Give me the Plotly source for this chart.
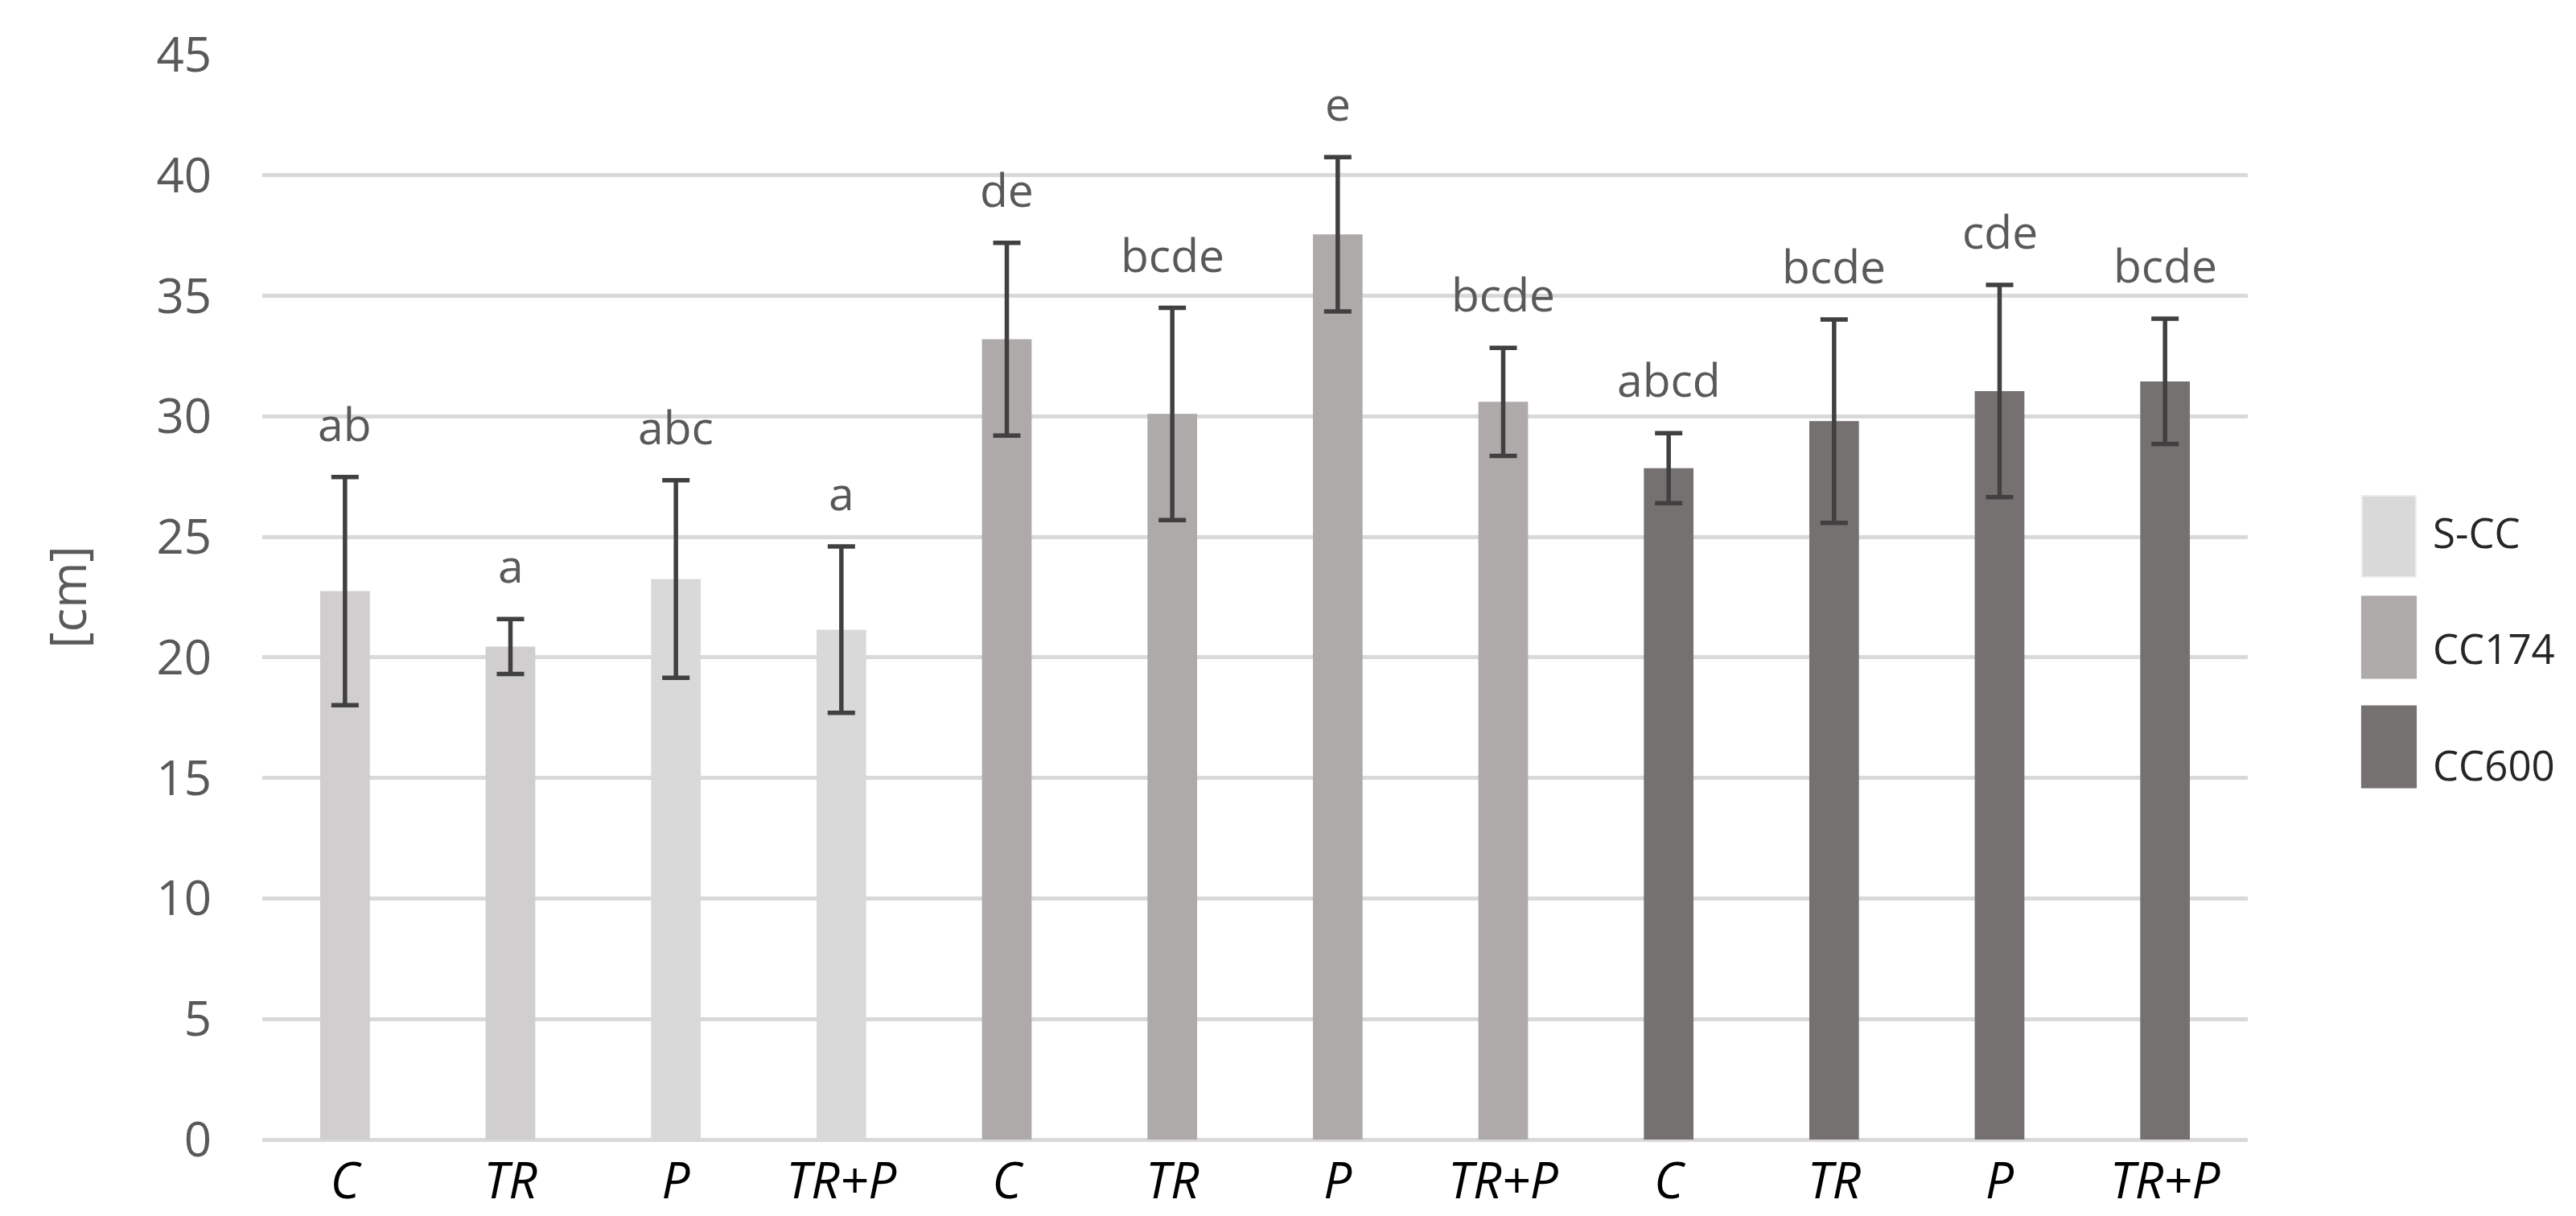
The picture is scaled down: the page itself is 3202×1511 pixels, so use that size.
import plotly.graph_objects as go

groups = ["S-CC", "CC174", "CC600"]
treatments = ["C", "TR", "P", "TR+P"]

scc_mean = [22.75, 20.45, 23.25, 21.15]
scc_err = [4.73, 1.14, 4.10, 3.45]
cc174_mean = [33.2, 30.1, 37.55, 30.6]
cc174_err = [4.0, 4.4, 3.2, 2.24]
cc600_mean = [27.85, 29.8, 31.05, 31.45]
cc600_err = [1.45, 4.22, 4.4, 2.6]

scc_letters = ["ab", "a", "abc", "a"]
cc174_letters = ["de", "bcde", "e", "bcde"]
cc600_letters = ["abcd", "bcde", "cde", "bcde"]

y_ticks = [0, 5, 10, 15, 20, 25, 30, 35, 40, 45]

means = [scc_mean, cc174_mean, cc600_mean]
errs = [scc_err, cc174_err, cc600_err]
letters = [scc_letters, cc174_letters, cc600_letters]
# Excel-like grey shades
bar_colors = [["#D0CECE", "#D0CECE", "#D9D9D9", "#D9D9D9"],
              ["#AEAAAA"] * 4,
              ["#767171"] * 4]
legend_colors = ["#D9D9D9", "#AEAAAA", "#767171"]

FONT = "Open Sans"
fig = go.Figure()

annotations = []
for g, name in enumerate(groups):
    xs = [g * len(treatments) + i for i in range(len(treatments))]
    fig.add_trace(go.Bar(
        x=xs, y=means[g], name=name, width=0.30,
        marker=dict(color=bar_colors[g], line=dict(width=0)),
        error_y=dict(type="data", array=errs[g], visible=True,
                     color="#404040", thickness=5.5, width=17),
        showlegend=False,
    ))
    for x, m, e, lab in zip(xs, means[g], errs[g], letters[g]):
        annotations.append(dict(
            x=x, y=m + e, xref="x", yref="y", text=lab, showarrow=False,
            yanchor="bottom", yshift=26,
            font=dict(family=FONT, size=57, color="#595959"),
        ))

# manual legend (tall rectangular keys like the original)
shapes = []
key_centers = [0.556, 0.463, 0.362]
text_centers = [0.560, 0.453, 0.346]
for name, col, yc, yt in zip(groups, legend_colors, key_centers, text_centers):
    shapes.append(dict(type="rect", xref="paper", yref="paper",
                       x0=1.0575, x1=1.0847, y0=yc - 0.0375, y1=yc + 0.0375,
                       fillcolor=col,
                       line=dict(width=2, color="#EDEDED" if name == "S-CC" else col)))
    annotations.append(dict(x=1.0925, y=yt, xref="paper", yref="paper",
                            text=name, showarrow=False, xanchor="left", yanchor="middle",
                            font=dict(family=FONT, size=51, color="#262626")))

n = len(groups) * len(treatments)
fig.update_layout(
    width=3202, height=1511,
    margin=dict(l=318, r=416, t=60, b=99, pad=0),
    plot_bgcolor="white", paper_bgcolor="white",
    annotations=annotations,
    shapes=shapes,
    xaxis=dict(
        range=[-0.5, n - 0.5],
        tickmode="array",
        tickvals=list(range(n)),
        ticktext=["<i>%s</i>" % t for t in treatments * len(groups)],
        tickfont=dict(family=FONT, size=62, color="#000000"),
        showgrid=False, zeroline=False, showline=False,
        ticks="", ticklabelstandoff=10,
    ),
    yaxis=dict(
        range=[0, 45],
        tickmode="array", tickvals=y_ticks,
        tickfont=dict(family=FONT, size=60, color="#595959"),
        showgrid=True, gridcolor="#D9D9D9", gridwidth=4.5,
        zeroline=True, zerolinecolor="#D9D9D9", zerolinewidth=4.5,
        showline=False, ticks="", ticklabelstandoff=62,
        title=dict(text="[cm]", standoff=66,
                   font=dict(family=FONT, size=62, color="#595959")),
    ),
)

fig.write_html("out.html")
